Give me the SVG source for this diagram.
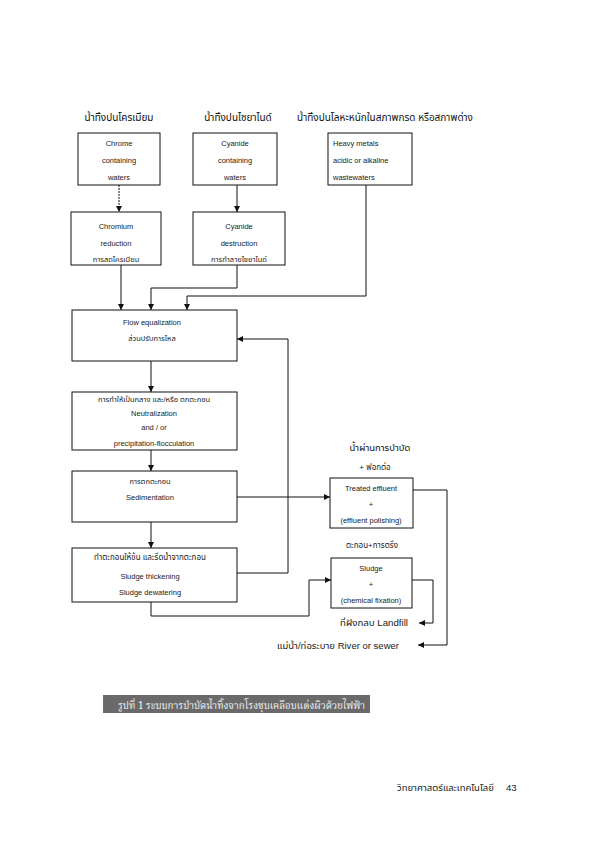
<svg xmlns="http://www.w3.org/2000/svg" width="595" height="842" viewBox="0 0 595 842">
<style>
.box{fill:#fff;stroke:#111;stroke-width:1}
.t{font-family:"Liberation Sans","Noto Sans Thai","Noto Sans",sans-serif;font-size:7.5px;fill:#1a1a1a;text-anchor:middle}
.tl{font-family:"Liberation Sans","Noto Sans Thai","Noto Sans",sans-serif;font-size:7.5px;fill:#1a1a1a}
.h{font-family:"Noto Sans Thai","Liberation Sans","Noto Sans",sans-serif;font-size:10px;fill:#111;text-anchor:middle}
.l{font-family:"Liberation Sans","Noto Sans Thai","Noto Sans",sans-serif;font-size:8.5px;fill:#1a1a1a}
.c{fill:none;stroke:#111;stroke-width:1}
</style>
<defs>
<marker id="a" viewBox="0 0 10 10" refX="10" refY="5" markerWidth="6" markerHeight="6" orient="auto-start-reverse" markerUnits="userSpaceOnUse"><path d="M0,0 L10,5 L0,10 z" fill="#111"/></marker>
</defs>
<rect width="595" height="842" fill="#fff"/>

<g id="title1"><text class="h" x="119" y="121">น้ำทิ้งปนโครเมียม</text></g>
<g id="title2"><text class="h" x="238" y="121">น้ำทิ้งปนไซยาไนด์</text></g>
<g id="title3"><text class="h" x="385" y="121">น้ำทิ้งปนโลหะหนักในสภาพกรด หรือสภาพด่าง</text></g>

<g id="chrome">
<rect class="box" x="78" y="133" width="82" height="52"/>
<text class="t" x="119" y="146">Chrome</text>
<text class="t" x="119" y="163">containing</text>
<text class="t" x="119" y="180">waters</text>
</g>
<g id="cyanide">
<rect class="box" x="193" y="133" width="84" height="52"/>
<text class="t" x="235" y="146">Cyanide</text>
<text class="t" x="235" y="163">containing</text>
<text class="t" x="235" y="180">waters</text>
</g>
<g id="heavy">
<rect class="box" x="328" y="133" width="84" height="52"/>
<text class="tl" x="333" y="146">Heavy metals</text>
<text class="tl" x="333" y="163">acidic or alkaline</text>
<text class="tl" x="333" y="180">wastewaters</text>
</g>

<g id="chromium">
<rect class="box" x="71" y="212" width="90" height="53"/>
<text class="t" x="116" y="229">Chromium</text>
<text class="t" x="116" y="246">reduction</text>
<text class="t" x="116" y="262">การลดโครเมียม</text>
</g>
<g id="cyanidedes">
<rect class="box" x="193" y="212" width="92" height="53"/>
<text class="t" x="239" y="229">Cyanide</text>
<text class="t" x="239" y="246">destruction</text>
<text class="t" x="239" y="262">การทำลายไซยาไนด์</text>
</g>

<g id="flow">
<rect class="box" x="72" y="310" width="165" height="51"/>
<text class="t" x="152" y="325">Flow equalization</text>
<text class="t" x="152" y="341">ส่วนปรับการไหล</text>
</g>

<g id="neutral">
<rect class="box" x="72" y="392" width="165" height="58"/>
<text class="t" x="154" y="402">การทำให้เป็นกลาง และ/หรือ ตกตะกอน</text>
<text class="t" x="154" y="416">Neutralization</text>
<text class="t" x="154" y="430">and / or</text>
<text class="t" x="154" y="446">precipitation-flocculation</text>
</g>

<g id="sedim">
<rect class="box" x="72" y="471" width="165" height="51"/>
<text class="t" x="150" y="484">การตกตะกอน</text>
<text class="t" x="150" y="500">Sedimentation</text>
</g>

<g id="thick">
<rect class="box" x="72" y="548" width="165" height="54"/>
<text class="t" x="150" y="560" style="font-size:8px">ทำตะกอนให้ข้น และรีดน้ำจากตะกอน</text>
<text class="t" x="150" y="579">Sludge thickening</text>
<text class="t" x="150" y="595">Sludge dewatering</text>
</g>

<g id="treated">
<text class="h" x="380" y="451" style="font-size:9.5px">น้ำผ่านการบำบัด</text>
<text class="t" x="375" y="470" style="font-size:8px">+ ฟอกต่อ</text>
<rect class="box" x="330" y="478" width="83" height="50"/>
<text class="t" x="371" y="491">Treated effluent</text>
<text class="t" x="371" y="507">+</text>
<text class="t" x="371" y="523">(effluent polishing)</text>
</g>

<g id="sludge">
<text class="t" x="372" y="548" style="font-size:8px">ตะกอน+การตรึง</text>
<rect class="box" x="331" y="558" width="81" height="50"/>
<text class="t" x="371" y="571">Sludge</text>
<text class="t" x="371" y="587">+</text>
<text class="t" x="371" y="603">(chemical fixation)</text>
</g>

<g id="landfill"><text class="l" x="340" y="626" textLength="68" lengthAdjust="spacingAndGlyphs">ที่ฝังกลบ Landfill</text></g>
<g id="river"><text class="l" x="277" y="649" textLength="122" lengthAdjust="spacingAndGlyphs">แม่น้ำ/ท่อระบาย River or sewer</text></g>

<g id="connectors">
<path class="c" d="M119,185 V212" stroke-dasharray="2,1" marker-end="url(#a)"/>
<path class="c" d="M237,185 V212" marker-end="url(#a)"/>
<path class="c" d="M121,265 V310" marker-end="url(#a)"/>
<path class="c" d="M237,265 V288 H151 V310" marker-end="url(#a)"/>
<path class="c" d="M366,185 V296 H187 V310" marker-end="url(#a)"/>
<path class="c" d="M151,361 V392" marker-end="url(#a)"/>
<path class="c" d="M151,450 V471" marker-end="url(#a)"/>
<path class="c" d="M151,522 V548" marker-end="url(#a)"/>
<path class="c" d="M237,573 H288 V339 H237" marker-end="url(#a)"/>
<path class="c" d="M237,497 H330" marker-end="url(#a)"/>
<path class="c" d="M151,602 V616 H309 V580 H331" marker-end="url(#a)"/>
<path class="c" d="M412,580 H433 V623 H419" marker-end="url(#a)"/>
<path class="c" d="M413,490 H447 V645 H418" marker-end="url(#a)"/>
</g>

<g id="caption">
<rect x="103" y="695" width="267" height="18" fill="#6a6a6a"/>
<text x="118" y="708.5" font-family="'Noto Serif Thai','Liberation Serif',serif" font-size="10.5" fill="#f2f2f2" textLength="247" lengthAdjust="spacingAndGlyphs">รูปที่ 1 ระบบการบำบัดน้ำทิ้งจากโรงชุบเคลือบแต่งผิวด้วยไฟฟ้า</text>
</g>
<g id="footer">
<text x="397" y="791" font-family="'Noto Sans Thai','Liberation Sans',sans-serif" font-size="9.5" fill="#222">วิทยาศาสตร์และเทคโนโลยี</text>
<text x="506" y="791" font-family="'Liberation Sans',sans-serif" font-size="9.5" fill="#222">43</text>
</g>
</svg>
